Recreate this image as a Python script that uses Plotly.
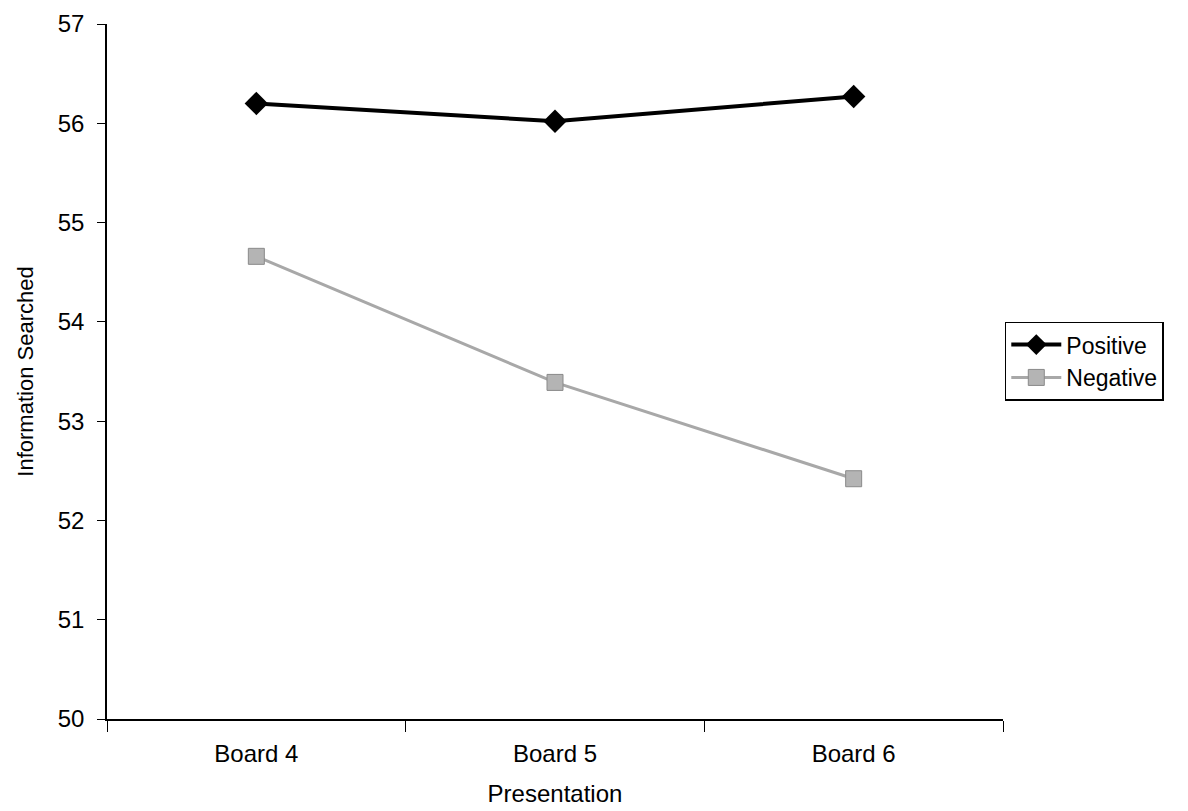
import plotly.graph_objects as go

categories = ["Board 4", "Board 5", "Board 6"]
positive = [56.20, 56.02, 56.27]
negative = [54.66, 53.39, 52.42]
y_ticks = [50, 51, 52, 53, 54, 55, 56, 57]

fig = go.Figure()
fig.add_trace(go.Scatter(
    x=categories, y=positive, name="Positive", mode="lines+markers",
    line=dict(color="black", width=4),
    marker=dict(symbol="diamond", size=18, color="black"),
))
fig.add_trace(go.Scatter(
    x=categories, y=negative, name="Negative", mode="lines+markers",
    line=dict(color="#a8a8a8", width=3),
    marker=dict(symbol="square", size=16, color="#b4b4b4",
                line=dict(color="#8a8a8a", width=1)),
))

fig.update_layout(
    width=1188, height=811,
    margin=dict(l=99, r=193, t=16, b=100, autoexpand=False),
    plot_bgcolor="white", paper_bgcolor="white",
    font=dict(family="Liberation Sans, Arial, sans-serif", size=24, color="black"),
    showlegend=True,
    legend=dict(x=1.002, y=0.515, xanchor="left", yanchor="middle",
                bordercolor="black", borderwidth=1.5, bgcolor="white",
                font=dict(size=23), itemwidth=50, tracegroupgap=2),
    xaxis=dict(
        type="category", tickson="boundaries", ticks="outside", ticklen=11,
        tickcolor="black", showline=True, linecolor="black", linewidth=1.5,
        showgrid=False, zeroline=False, range=[-0.5, 2.5], automargin=False,
        title=dict(text="Presentation", font=dict(size=24), standoff=20),
        tickfont=dict(size=24), ticklabelstandoff=12,
    ),
    yaxis=dict(
        range=[50, 57], tickvals=y_ticks, ticks="outside", ticklen=8,
        tickcolor="black", showline=True, linecolor="black", linewidth=1.5,
        showgrid=False, zeroline=False, ticklabeloverflow="allow", automargin=False,
        title=dict(text="Information Searched", font=dict(size=22), standoff=18),
        tickfont=dict(size=24), ticklabelstandoff=8,
    ),
)

fig.write_html("out.html")
